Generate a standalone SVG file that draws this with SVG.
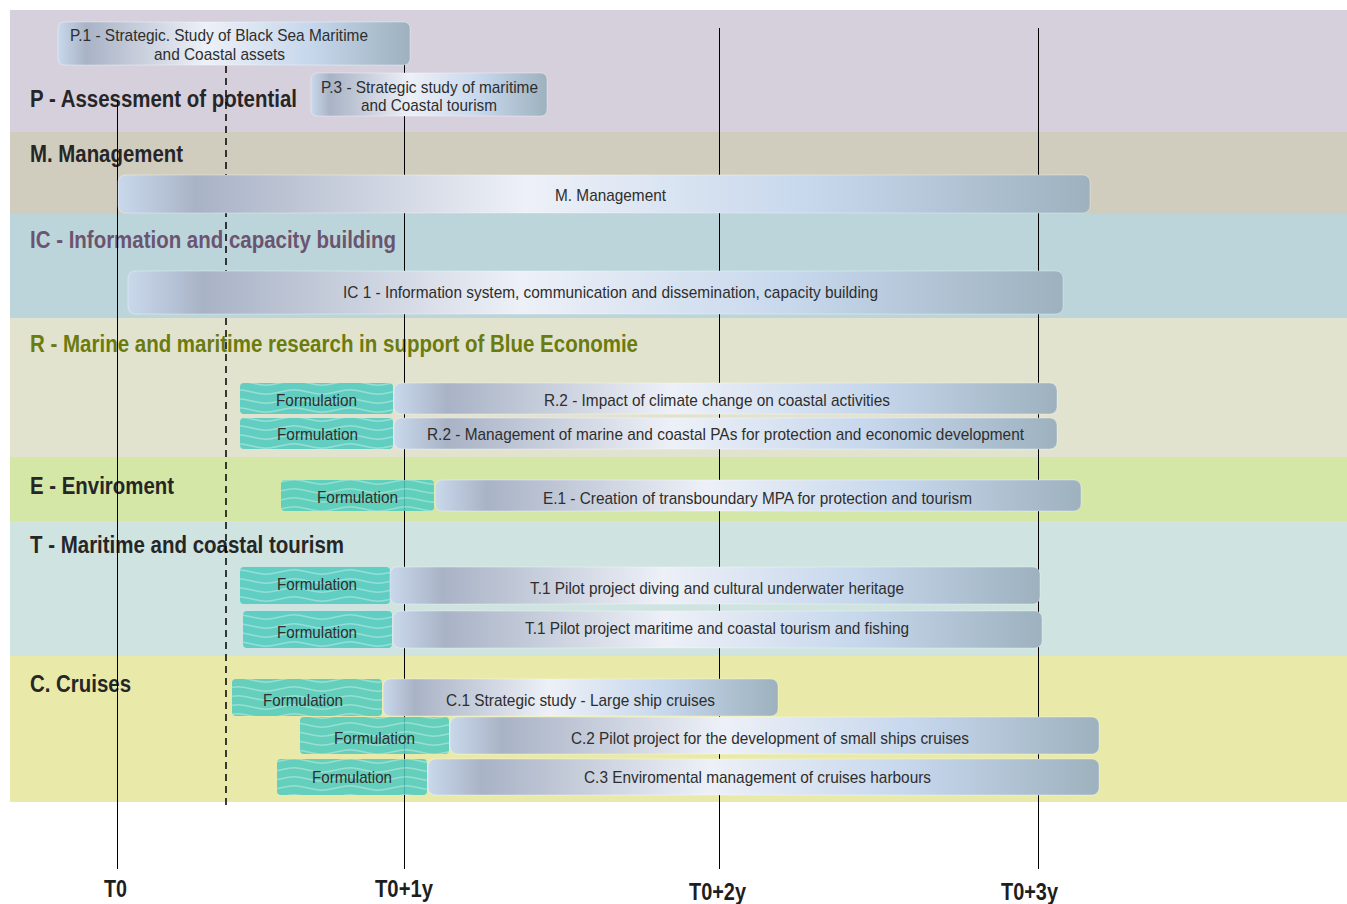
<svg xmlns="http://www.w3.org/2000/svg" width="1347" height="904" viewBox="0 0 1347 904">
<defs>
<linearGradient id="barGrad" x1="0" y1="0" x2="1" y2="0">
<stop offset="0" stop-color="#c9d8eb"/>
<stop offset="0.08" stop-color="#a9b3c6"/>
<stop offset="0.42" stop-color="#edf0f7"/>
<stop offset="0.72" stop-color="#c6d7ec"/>
<stop offset="1" stop-color="#9db1be"/>
</linearGradient>
<pattern id="wave" width="56" height="9" patternUnits="userSpaceOnUse">
<rect width="56" height="9" fill="#4fcbbf"/>
<path d="M0 5 C14 2 14 2 28 5 S42 8 56 5" fill="none" stroke="#ffffff" stroke-opacity="0.35" stroke-width="1.6"/>
</pattern>
<style>
.band{stroke:none}
.bar{fill:url(#barGrad);stroke:#ffffff;stroke-opacity:0.35;stroke-width:1}
.form{fill:url(#wave);opacity:0.87}
.t{font-family:"Liberation Sans Narrow","Liberation Sans",Arial,sans-serif;font-size:17px;fill:#2e2e2e}
.h{font-family:"Liberation Sans Narrow","Liberation Sans",Arial,sans-serif;font-size:23px;font-weight:bold;fill:#262626}
.ax{font-family:"Liberation Sans Narrow","Liberation Sans",Arial,sans-serif;font-size:24px;font-weight:bold;fill:#1e1e1e}
.line{stroke:#000;stroke-width:1}
.dash{stroke:#000;stroke-width:1.5;stroke-dasharray:7 5}
</style>
</defs>
<g id="bands">
<rect class="band" x="10" y="10" width="1337" height="122" fill="#d6d0dd"/>
<rect class="band" x="10" y="132" width="1337" height="82" fill="#d0cdbe"/>
<rect class="band" x="10" y="214" width="1337" height="104" fill="#bcd5db"/>
<rect class="band" x="10" y="318" width="1337" height="139" fill="#e2e3cf"/>
<rect class="band" x="10" y="457" width="1337" height="64" fill="#d4e7a6"/>
<rect class="band" x="10" y="521" width="1337" height="135" fill="#cfe3e1"/>
<rect class="band" x="10" y="656" width="1337" height="146" fill="#e9eaa9"/>
</g>
<g id="headers">
<text class="h" x="30" y="107" textLength="267" lengthAdjust="spacingAndGlyphs">P - Assessment of potential</text>
<text class="h" x="30" y="162" textLength="153" lengthAdjust="spacingAndGlyphs">M. Management</text>
<text class="h" x="30" y="248" textLength="366" lengthAdjust="spacingAndGlyphs" style="fill:#6b5470">IC - Information and capacity building</text>
<text class="h" x="30" y="352" textLength="608" lengthAdjust="spacingAndGlyphs" style="fill:#6b7b0e">R - Marine and maritime research in support of Blue Economie</text>
<text class="h" x="30" y="494" textLength="144" lengthAdjust="spacingAndGlyphs">E - Enviroment</text>
<text class="h" x="30" y="553" textLength="314" lengthAdjust="spacingAndGlyphs">T - Maritime and coastal tourism</text>
<text class="h" x="30" y="692" textLength="101" lengthAdjust="spacingAndGlyphs">C. Cruises</text>
</g>
<g id="connectors">
<line class="line" x1="117.5" y1="100" x2="117.5" y2="869"/>
<line class="dash" x1="226" y1="66" x2="226" y2="810"/>
<line class="line" x1="404.5" y1="28" x2="404.5" y2="869"/>
<line class="line" x1="719.5" y1="28" x2="719.5" y2="869"/>
<line class="line" x1="1038.5" y1="28" x2="1038.5" y2="869"/>
</g>
<g id="P1">
<rect class="bar" x="58" y="22" width="352" height="43" rx="6"/>
<text class="t" x="70" y="41" textLength="298" lengthAdjust="spacingAndGlyphs">P.1 - Strategic. Study of Black Sea Maritime</text>
<text class="t" x="154" y="60" textLength="131" lengthAdjust="spacingAndGlyphs">and Coastal assets</text>
</g>
<g id="P3">
<rect class="bar" x="311" y="73" width="236" height="43" rx="6"/>
<text class="t" x="321" y="93" textLength="217" lengthAdjust="spacingAndGlyphs">P.3 - Strategic study of maritime</text>
<text class="t" x="361" y="111" textLength="136" lengthAdjust="spacingAndGlyphs">and Coastal tourism</text>
</g>
<g id="M">
<rect class="bar" x="118" y="175" width="972" height="38" rx="7"/>
<text class="t" x="555" y="201" textLength="111" lengthAdjust="spacingAndGlyphs">M. Management</text>
</g>
<g id="IC1">
<rect class="bar" x="128" y="271" width="935" height="43" rx="7"/>
<text class="t" x="343" y="298" textLength="535" lengthAdjust="spacingAndGlyphs">IC 1 - Information system, communication and dissemination, capacity building</text>
</g>
<g id="R2a">
<rect class="form" x="240" y="383" width="153" height="31" rx="4"/>
<text class="t" x="276" y="406" textLength="81" lengthAdjust="spacingAndGlyphs">Formulation</text>
<rect class="bar" x="394" y="383" width="663" height="31" rx="7"/>
<text class="t" x="544" y="406" textLength="346" lengthAdjust="spacingAndGlyphs">R.2 - Impact of climate change on coastal activities</text>
</g>
<g id="R2b">
<rect class="form" x="240" y="418" width="153" height="31" rx="4"/>
<text class="t" x="277" y="440" textLength="81" lengthAdjust="spacingAndGlyphs">Formulation</text>
<rect class="bar" x="394" y="418" width="663" height="31" rx="7"/>
<text class="t" x="427" y="440" textLength="597" lengthAdjust="spacingAndGlyphs">R.2 - Management of marine and coastal PAs for protection and economic development</text>
</g>
<g id="E1">
<rect class="form" x="281" y="480" width="153" height="31" rx="4"/>
<text class="t" x="317" y="503" textLength="81" lengthAdjust="spacingAndGlyphs">Formulation</text>
<rect class="bar" x="435" y="480" width="646" height="31" rx="7"/>
<text class="t" x="543" y="504" textLength="429" lengthAdjust="spacingAndGlyphs">E.1 - Creation of transboundary MPA for protection and tourism</text>
</g>
<g id="T1a">
<rect class="form" x="240" y="567" width="150" height="37" rx="4"/>
<text class="t" x="277" y="590" textLength="80" lengthAdjust="spacingAndGlyphs">Formulation</text>
<rect class="bar" x="390" y="567" width="650" height="37" rx="7"/>
<text class="t" x="530" y="594" textLength="374" lengthAdjust="spacingAndGlyphs">T.1 Pilot project diving and cultural underwater heritage</text>
</g>
<g id="T1b">
<rect class="form" x="243" y="611" width="149" height="37" rx="4"/>
<text class="t" x="277" y="638" textLength="80" lengthAdjust="spacingAndGlyphs">Formulation</text>
<rect class="bar" x="393" y="611" width="649" height="37" rx="7"/>
<text class="t" x="525" y="634" textLength="384" lengthAdjust="spacingAndGlyphs">T.1 Pilot project maritime and coastal tourism and fishing</text>
</g>
<g id="C1">
<rect class="form" x="232" y="679" width="150" height="37" rx="4"/>
<text class="t" x="263" y="706" textLength="80" lengthAdjust="spacingAndGlyphs">Formulation</text>
<rect class="bar" x="383" y="679" width="395" height="37" rx="7"/>
<text class="t" x="446" y="706" textLength="269" lengthAdjust="spacingAndGlyphs">C.1 Strategic study - Large ship cruises</text>
</g>
<g id="C2">
<rect class="form" x="300" y="717" width="149" height="37" rx="4"/>
<text class="t" x="334" y="744" textLength="81" lengthAdjust="spacingAndGlyphs">Formulation</text>
<rect class="bar" x="450" y="717" width="649" height="37" rx="7"/>
<text class="t" x="571" y="744" textLength="398" lengthAdjust="spacingAndGlyphs">C.2 Pilot project for the development of small ships cruises</text>
</g>
<g id="C3">
<rect class="form" x="277" y="759" width="150" height="36" rx="4"/>
<text class="t" x="312" y="783" textLength="80" lengthAdjust="spacingAndGlyphs">Formulation</text>
<rect class="bar" x="428" y="759" width="671" height="36" rx="7"/>
<text class="t" x="584" y="783" textLength="347" lengthAdjust="spacingAndGlyphs">C.3 Enviromental management of cruises harbours</text>
</g>
<g id="axis">
<text class="ax" x="104" y="897" textLength="23" lengthAdjust="spacingAndGlyphs">T0</text>
<text class="ax" x="375" y="897" textLength="58" lengthAdjust="spacingAndGlyphs">T0+1y</text>
<text class="ax" x="689" y="900" textLength="57" lengthAdjust="spacingAndGlyphs">T0+2y</text>
<text class="ax" x="1001" y="900" textLength="57" lengthAdjust="spacingAndGlyphs">T0+3y</text>
</g>
</svg>
